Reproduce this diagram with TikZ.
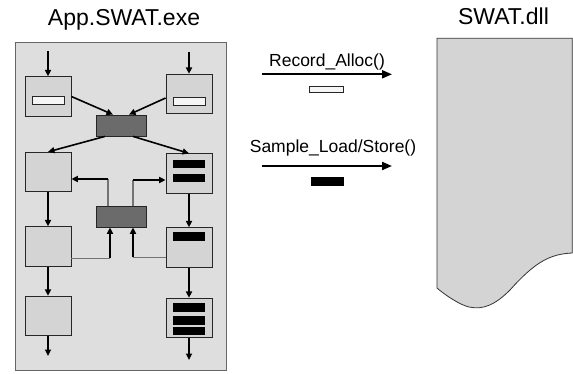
\documentclass[tikz,border=0pt]{standalone}
\usepackage{fontspec}
\setmainfont{Liberation Sans}
\usetikzlibrary{arrows.meta}

\begin{document}
\begin{tikzpicture}[x=1pt,y=-1pt,
  panel/.style={draw=black!60,fill=black!13,line width=0.8pt,minimum width=211pt,minimum height=328pt,inner sep=0pt},
  blk/.style={draw=black!85,fill=black!17,line width=0.8pt,minimum width=46pt,minimum height=39.5pt,inner sep=0pt},
  dark/.style={draw=black!85,fill=black!58,line width=0.8pt,minimum width=50pt,minimum height=21pt,inner sep=0pt},
  wbar/.style={draw=black!85,fill=black!4,line width=0.7pt,minimum width=32pt,minimum height=8pt,inner sep=0pt},
  bbar/.style={fill=black,minimum width=32pt,minimum height=8.5pt,inner sep=0pt},
  arr/.style={-{Triangle[length=6.5pt,width=6pt]},line width=1.6pt},
  link/.style={draw=black!55,line width=1.2pt},
  call/.style={-{Triangle[length=10pt,width=8pt]},line width=2pt},
  dll/.style={draw=black!80,fill=black!17,line width=0.8pt},
  ttl/.style={font=\fontsize{23}{27}\selectfont,anchor=base,inner sep=0pt},
  lbl/.style={font=\fontsize{17.5}{21}\selectfont,anchor=base,inner sep=0pt}]
\useasboundingbox (0,0) rectangle (573,374);

% titles
\node[ttl] (exe) at (124,25.7) {App.SWAT.exe};
\node[ttl] (lib) at (503.5,25) {SWAT.dll};

% the program
\node[panel] (app) at (120.5,206) {};
\node[blk] (b1l) at (48,96.5) {};
\node[blk] (b1r) at (189,94) {};
\node[dark] (d1) at (121,125.5) {};
\node[blk] (b2l) at (48,172) {};
\node[blk] (b2r) at (189,173.5) {};
\node[dark] (d2) at (121,216.5) {};
\node[blk] (b3l) at (48,246.5) {};
\node[blk] (b3r) at (189,247.5) {};
\node[blk] (b4l) at (48,316) {};
\node[blk] (b4r) at (189,318) {};

% bars
\node[wbar] (w1) at (48,100) {};
\node[wbar] (w2) at (189,101) {};
\foreach \y/\n in {164/a,178/b,236.7/c,307.5/d,320.3/e,331/f} {
  \node[bbar] (bar\n) at (189,\y) {};
}

% flow
\coordinate (src1) at (48,51);
\coordinate (src2) at (189,52);
\coordinate (snk1) at (48,356);
\coordinate (snk2) at (189,360);
\draw[arr] (src1) -- (b1l.north);
\draw[arr] (src2) -- (b1r.north);
\draw[arr] (b1l.east) -- ([xshift=-8pt]d1.north);
\draw[arr] ([yshift=-4pt]b1r.west) -- ([xshift=8pt]d1.north);
\draw[arr] ([xshift=-16pt]d1.south) -- (b2l.north);
\draw[arr] ([xshift=12pt]d1.south) -- (b2r.north);
\draw[arr] (b2l.south) -- (b3l.north);
\draw[arr] (b2r.south) -- (b3r.north);
\draw[arr] (b3l.south) -- (b4l.north);
\draw[arr] (b3r.south) -- (b4r.north);
\draw[arr] (b4l.south) -- (snk1);
\draw[arr] (b4r.south) -- (snk2);

\coordinate (up1) at ([xshift=-13pt]d2.north);
\coordinate (to1) at ([yshift=-7pt]b2l.east);
\coordinate (up2) at ([xshift=12pt]d2.north);
\coordinate (to2) at ([yshift=-6.5pt]b2r.west);
\draw[link] (up1) -- (up1 |- to1);
\draw[arr] (up1 |- to1) -- (to1);
\draw[link] (up2) -- (up2 |- to2);
\draw[arr] (up2 |- to2) -- (to2);

\coordinate (fr3) at ([yshift=-12pt]b3l.east);
\coordinate (in3) at ([xshift=-11pt]d2.south);
\coordinate (fr4) at ([yshift=-10pt]b3r.west);
\coordinate (in4) at ([xshift=12pt]d2.south);
\draw[link] (fr3) -- (fr3 -| in3);
\draw[arr] (fr3 -| in3) -- (in3);
\draw[link] (fr4) -- (fr4 -| in4);
\draw[arr] (fr4 -| in4) -- (in4);

% calls
\node[lbl] (rec) at (327,66.7) {Record\_Alloc()};
\coordinate (c1s) at (262,74.3);
\coordinate (c1e) at (392,74.3);
\draw[call] (c1s) -- (c1e);
\node[wbar,minimum width=34pt,minimum height=6pt] (recbar) at (326,89.5) {};
\node[lbl] (smp) at (333,153) {Sample\_Load/Store()};
\coordinate (c2s) at (262,166);
\coordinate (c2e) at (392,166);
\draw[call] (c2s) -- (c2e);
\node[bbar,minimum width=33pt] (smpbar) at (327.5,181.3) {};

% the library
\draw[dll] (437,38.3) -- (572.3,38.3) -- (572.3,253)
  .. controls (550,254) and (535,262) .. (510,290)
  .. controls (495,305) and (483,310) .. (469,307)
  .. controls (460,305) and (445,295) .. (437,288) -- cycle;
\end{tikzpicture}
\end{document}
